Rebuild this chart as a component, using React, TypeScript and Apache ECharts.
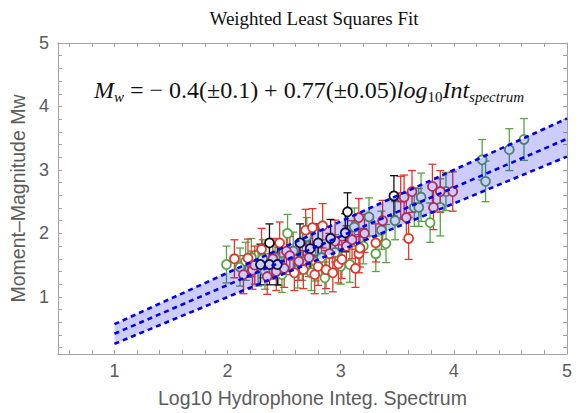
import React, { useEffect, useRef } from "react";
import * as echarts from "echarts";

// [x, y, error]
const greenPts: number[][] = [
  [1.99, 1.51, 0.29], [2.11, 1.47, 0.3], [2.16, 1.56, 0.3], [2.21, 1.62, 0.3], [2.27, 1.45, 0.28],
  [2.31, 1.6, 0.3], [2.33, 1.4, 0.28], [2.42, 1.62, 0.3], [2.45, 1.48, 0.3], [2.48, 1.35, 0.28],
  [2.53, 2.0, 0.3], [2.58, 1.72, 0.3], [2.62, 1.42, 0.28], [2.66, 1.56, 0.3], [2.7, 1.95, 0.3],
  [2.74, 1.38, 0.28], [2.78, 1.55, 0.3], [2.83, 1.62, 0.28], [2.86, 1.3, 0.25], [2.95, 1.7, 0.28],
  [3.0, 1.48, 0.28], [3.08, 1.51, 0.28], [3.12, 2.1, 0.3], [3.2, 1.8, 0.28], [3.25, 2.26, 0.3],
  [3.31, 1.68, 0.28], [3.36, 2.05, 0.3], [3.4, 1.84, 0.3], [3.48, 2.2, 0.3],
  [3.65, 2.41, 0.3], [3.69, 2.41, 0.3], [3.71, 2.57, 0.38], [3.79, 2.17, 0.31],
  [3.88, 2.41, 0.45], [3.93, 2.66, 0.3], [4.25, 3.16, 0.32], [4.28, 2.82, 0.32],
  [4.49, 3.32, 0.33], [4.62, 3.48, 0.33],
];
const redPts: number[][] = [
  [2.06, 1.6, 0.3], [2.14, 1.35, 0.3], [2.18, 1.61, 0.3], [2.22, 1.42, 0.3], [2.24, 1.5, 0.3],
  [2.3, 1.75, 0.33], [2.35, 1.32, 0.28], [2.4, 1.6, 0.32], [2.43, 1.4, 0.3], [2.46, 1.85, 0.33],
  [2.5, 1.45, 0.3], [2.52, 1.72, 0.32], [2.55, 1.65, 0.3], [2.59, 1.38, 0.28], [2.63, 1.56, 0.3],
  [2.67, 1.43, 0.3], [2.69, 2.05, 0.33], [2.72, 1.62, 0.3], [2.75, 2.09, 0.3], [2.77, 1.35, 0.3],
  [2.8, 1.48, 0.3], [2.84, 2.12, 0.35], [2.87, 1.43, 0.3], [2.9, 1.68, 0.32], [2.93, 1.38, 0.3],
  [2.95, 1.88, 0.33], [2.98, 1.52, 0.3], [3.01, 1.59, 0.3], [3.05, 1.8, 0.32], [3.1, 1.9, 0.3],
  [3.13, 1.45, 0.3], [3.16, 1.68, 0.3], [3.17, 1.77, 0.3], [3.16, 2.25, 0.3], [3.21, 2.0, 0.3],
  [3.31, 1.85, 0.3], [3.37, 2.2, 0.32], [3.53, 2.57, 0.33], [3.56, 2.57, 0.35], [3.58, 2.25, 0.35],
  [3.6, 1.92, 0.33], [3.63, 2.66, 0.33], [3.81, 2.74, 0.35], [3.82, 2.41, 0.35], [3.88, 2.66, 0.33],
  [3.99, 2.66, 0.31],
];
const blackPts: number[][] = [
  [2.29, 1.51, 0.32], [2.37, 1.85, 0.3], [2.37, 1.51, 0.32], [2.44, 1.51, 0.32],
  [2.64, 1.85, 0.3], [2.73, 1.76, 0.33], [2.8, 1.85, 0.3], [2.91, 1.92, 0.3],
  [3.04, 2.01, 0.3], [3.06, 2.34, 0.3], [3.47, 2.59, 0.32],
];
const fitX = [1, 5];
const fitCenter = [0.42, 3.49];
const fitUpper = [0.57, 3.81];
const fitLower = [0.26, 3.21];
const xTickLabels = [1, 2, 3, 4, 5];
const yTickLabels = [1, 2, 3, 4, 5];

const GREEN = "#57a447";
const RED = "#e2372b";
const BLACK = "#111111";
const AXIS = "#a3a3a3";
const LABEL = "#5c5c5c";

const xMinor: number[] = [];
for (let k = 3; k <= 25; k++) xMinor.push(Math.round(k * 2) / 10);
const yMinor: number[] = [];
for (let k = 1; k <= 25; k++) yMinor.push(Math.round(k * 2) / 10);

function errSeries(pts: number[][], color: string) {
  return {
    type: "custom",
    silent: true,
    z: 2,
    data: pts,
    encode: { x: 0, y: 1 },
    renderItem: (params: any, api: any) => {
      const x = api.value(0);
      const y = api.value(1);
      const e = api.value(2);
      const t = api.coord([x, y + e]);
      const b = api.coord([x, y - e]);
      const cw = 4;
      const st = { stroke: color, lineWidth: 1.3 };
      return {
        type: "group",
        children: [
          { type: "line", shape: { x1: t[0], y1: t[1], x2: b[0], y2: b[1] }, style: st },
          { type: "line", shape: { x1: t[0] - cw, y1: t[1], x2: t[0] + cw, y2: t[1] }, style: st },
          { type: "line", shape: { x1: b[0] - cw, y1: b[1], x2: b[0] + cw, y2: b[1] }, style: st },
        ],
      };
    },
  };
}

function ptSeries(pts: number[][], color: string) {
  return {
    type: "scatter",
    silent: true,
    z: 2,
    data: pts.map((p) => [p[0], p[1]]),
    symbol: "circle",
    symbolSize: 9,
    itemStyle: { color: "#ffffff", borderColor: color, borderWidth: 1.8, opacity: 1 },
  };
}

function lineSeries(vals: number[]) {
  return {
    type: "line",
    silent: true,
    z: 4,
    data: fitX.map((x, i) => [x, vals[i]]),
    symbol: "none",
    lineStyle: { color: "#0000f0", width: 2.6, type: [5, 4] },
  };
}

export default function App() {
  const ref = useRef<HTMLDivElement>(null);
  useEffect(() => {
    if (!ref.current) return;
    const chart = echarts.init(ref.current, null, { renderer: "svg" });
    const baseAxis = {
      type: "value",
      splitLine: { show: false },
      axisLine: { show: true, lineStyle: { color: AXIS, width: 1 } },
    };
    chart.setOption({
      animation: false,
      backgroundColor: "#ffffff",
      grid: { left: 57, right: 12, top: 43, bottom: 56 },
      xAxis: [
        {
          ...baseAxis,
          min: 0.5,
          max: 5,
          position: "bottom",
          axisTick: { show: true, inside: true, length: 4, customValues: xMinor, lineStyle: { color: AXIS } },
          axisLabel: { customValues: xTickLabels, color: LABEL, fontSize: 18, fontFamily: "Liberation Sans", margin: 8 },
          name: "Log10 Hydrophone Integ. Spectrum",
          nameLocation: "middle",
          nameGap: 34,
          nameTextStyle: { color: LABEL, fontSize: 19.5, fontFamily: "Liberation Sans" },
        },
        {
          ...baseAxis,
          min: 0.5,
          max: 5,
          position: "top",
          axisTick: { show: true, inside: true, length: 4, customValues: xMinor, lineStyle: { color: AXIS } },
          axisLabel: { show: false },
        },
      ],
      yAxis: [
        {
          ...baseAxis,
          min: 0.1,
          max: 5,
          position: "left",
          axisTick: { show: true, inside: true, length: 4, customValues: yMinor, lineStyle: { color: AXIS } },
          axisLabel: { customValues: yTickLabels, color: LABEL, fontSize: 18, fontFamily: "Liberation Sans", margin: 9 },
          name: "Moment\u2013Magnitude Mw",
          nameLocation: "middle",
          nameGap: 28,
          nameTextStyle: { color: LABEL, fontSize: 19.5, fontFamily: "Liberation Sans" },
        },
        {
          ...baseAxis,
          min: 0.1,
          max: 5,
          position: "right",
          axisTick: { show: true, inside: true, length: 4, customValues: yMinor, lineStyle: { color: AXIS } },
          axisLabel: { show: false },
        },
      ],
      graphic: [
        {
          type: "text",
          x: 314,
          y: 18,
          style: {
            text: "Weighted Least Squares Fit",
            fill: "#111",
            font: "19px 'Liberation Serif'",
            align: "center",
            verticalAlign: "middle",
          },
        },
        {
          type: "text",
          x: 309,
          y: 90,
          z: 10,
          style: {
            text: "{i|M}{s|w}{r| = \u2212 0.4(\u00b10.1) + 0.77(\u00b10.05)}{i|log}{sr|10}{i|Int}{s|spectrum}",
            align: "center",
            verticalAlign: "middle",
            fill: "#111",
            rich: {
              i: { fontFamily: "Liberation Serif", fontStyle: "italic", fontSize: 24, lineHeight: 28, fill: "#111" },
              r: { fontFamily: "Liberation Serif", fontSize: 24, lineHeight: 28, fill: "#111" },
              s: { fontFamily: "Liberation Serif", fontStyle: "italic", fontSize: 15, lineHeight: 15, verticalAlign: "bottom", fill: "#111" },
              sr: { fontFamily: "Liberation Serif", fontSize: 15, lineHeight: 15, verticalAlign: "bottom", fill: "#111" },
            },
          },
        },
      ],
      series: [
        errSeries(greenPts, GREEN),
        ptSeries(greenPts, GREEN),
        errSeries(redPts, RED),
        ptSeries(redPts, RED),
        errSeries(blackPts, BLACK),
        ptSeries(blackPts, BLACK),
        {
          type: "custom",
          silent: true,
          z: 3,
          data: [[fitX[0], fitCenter[0]]],
          renderItem: (params: any, api: any) => {
            const pts: number[][] = [];
            for (let i = 0; i < fitX.length; i++) pts.push(api.coord([fitX[i], fitUpper[i]]));
            for (let i = fitX.length - 1; i >= 0; i--) pts.push(api.coord([fitX[i], fitLower[i]]));
            return { type: "polygon", shape: { points: pts }, style: { fill: "rgba(0,0,255,0.2)", stroke: "none" } };
          },
        },
        lineSeries(fitUpper),
        lineSeries(fitCenter),
        lineSeries(fitLower),
      ],
    });
    return () => chart.dispose();
  }, []);
  return <div ref={ref} style={{ width: 579, height: 413, position: "absolute", left: 0, top: 0 }} />;
}
